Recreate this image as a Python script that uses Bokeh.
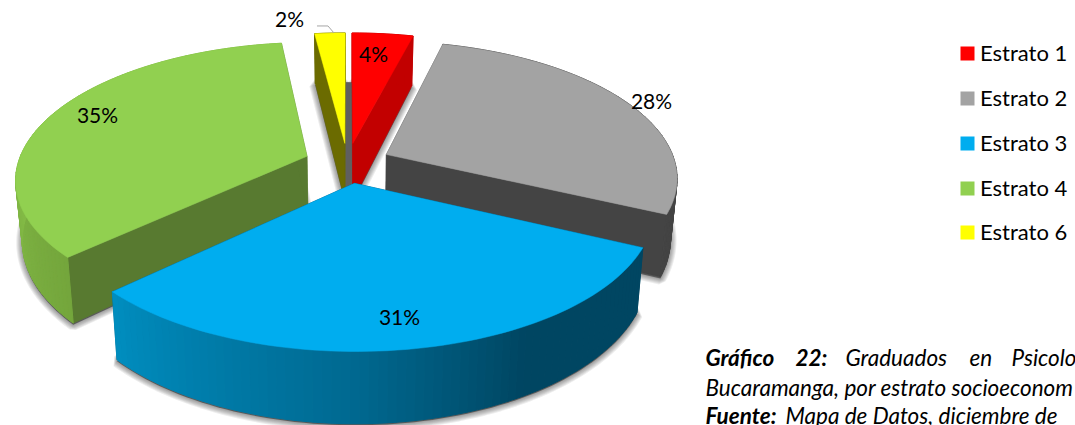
import numpy as np
from bokeh.plotting import figure
from bokeh.models import Range1d
from bokeh.core.properties import value
from bokeh.embed import file_html
from bokeh.resources import INLINE

# ---- data ----
categories = ["Estrato 1", "Estrato 2", "Estrato 3", "Estrato 4", "Estrato 6"]
percent = [4, 28, 31, 35, 2]
top_colors = ["#FF0000", "#A3A3A3", "#00ADEF", "#91D050", "#FFFF00"]
face_colors = ["#C20000", "#444444", "#004662", "#587A30", "#6B6B00"]
caption_line1 = ["Gráfico", "22:", "Graduados", "en", "Psicolo"]
caption_line2 = "Bucaramanga, por estrato socioeconom"
caption_bold3 = "Fuente:"
caption_line3 = "Mapa de Datos, diciembre de"

# ---- projection of the exploded 3-D pie onto the page (pixels) ----
X0, Y0 = 347.0, 162.5
RX, RY = 289.0, 134.0
KP = 0.16
EXPLODE = 0.15
DEPTH = 59.0
SHRINK = 0.98


def project(u, v):
    w = 1 + KP * v
    return X0 + RX * u / w, Y0 - RY * v / w


def drop(x, y, v):
    w = 1 + KP * v
    return X0 + (x - X0) * SHRINK, y + DEPTH / w


FONT = value("Lato")
p = figure(width=1075, height=425, output_backend="svg", toolbar_location=None,
           x_range=Range1d(0, 1075), y_range=Range1d(425, 0), min_border=0,
           outline_line_color=None, background_fill_color="white", border_fill_color="white")
p.axis.visible = False
p.grid.visible = False

edges = np.concatenate([[0], np.cumsum(percent)]) * 3.6
slices = []
for i in range(len(percent)):
    a0, a1 = edges[i], edges[i + 1]
    mid = np.radians((a0 + a1) / 2)
    du, dv = EXPLODE * np.sin(mid), EXPLODE * np.cos(mid)
    ang = np.radians(np.linspace(a0, a1, max(int((a1 - a0) / 1.5), 3)))
    u, v = du + np.sin(ang), dv + np.cos(ang)
    x, y = project(u, v)
    xb, yb = drop(x, y, v)
    ax, ay = project(du, dv)
    axb, ayb = drop(ax, ay, dv)
    slices.append(dict(a=np.degrees(ang), x=x, y=y, xb=xb, yb=yb, ax=ax, ay=ay, axb=axb, ayb=ayb))


# soft drop shadows, stroked with widening translucent lines
def shadow(xs, ys):
    for lw in (2, 4, 6, 8, 10, 12):
        p.patch(list(xs), list(np.array(ys) + 1.5), fill_color="black", fill_alpha=0.0,
                line_color="black", line_alpha=0.07, line_width=lw)
    p.patch(list(xs), list(np.array(ys) + 1.5), fill_color="black", fill_alpha=0.45, line_color=None)


for s in slices:
    shadow(np.r_[s["axb"], s["xb"]], np.r_[s["ayb"], s["yb"]])

# the dark gap between the two back slices
r, yl = slices[0], slices[4]
p.patch([yl["xb"][-1], r["xb"][0], r["axb"], yl["axb"]],
        [yl["yb"][-1], r["yb"][0], r["ayb"], yl["ayb"]],
        fill_color="#5F5F5F", line_color="#5F5F5F", line_width=1)


def wall_color(i, a):
    if i == 2:
        c = [np.interp(a, [115, 150, 180, 226.8], ch) for ch in
             ([0, 0, 0, 0], [70, 70, 105, 142], [98, 98, 145, 192])]
    elif i == 3:
        c = [np.interp(a, [226.8, 275], ch) for ch in ([116, 134], [166, 190], [60, 72])]
    else:
        return face_colors[i]
    return "#%02x%02x%02x" % tuple(int(round(t)) for t in c)


def draw(i):
    s = slices[i]
    # radial faces (those turned away end up behind the wall and the top)
    for k in (0, -1):
        p.patch([s["ax"], s["x"][k], s["xb"][k], s["axb"]],
                [s["ay"], s["y"][k], s["yb"][k], s["ayb"]],
                fill_color=face_colors[i], line_color=face_colors[i], line_width=0.5)
    # outer wall
    xs, ys, cs = [], [], []
    for k in range(len(s["x"]) - 1):
        xs.append([s["x"][k], s["x"][k + 1], s["xb"][k + 1], s["xb"][k]])
        ys.append([s["y"][k], s["y"][k + 1], s["yb"][k + 1], s["yb"][k]])
        cs.append(wall_color(i, s["a"][k]))
    p.patches(xs, ys, fill_color=cs, line_color=cs, line_width=1)
    # top
    p.patch(np.r_[s["ax"], s["x"]].tolist(), np.r_[s["ay"], s["y"]].tolist(),
            fill_color=top_colors[i], line_color=top_colors[i], line_width=0.5)


for i in (4, 0, 3, 1, 2):
    draw(i)

# leader line of the smallest slice
lx, ly = slices[4]["x"][len(slices[4]["x"]) // 2], slices[4]["y"][len(slices[4]["y"]) // 2]
p.line([lx - 18, lx - 7, lx - 1], [ly - 7, ly - 7, ly], line_color="#A6A6A6", line_width=1)

# value labels
label_x = [373, 651, 399, 97, 289]
label_y = [52.5, 99.5, 315.5, 113.5, 17.5]
p.text(label_x, label_y, text=[f"{v}%" for v in percent], text_font=FONT, text_font_size="21px",
       text_align="center", text_baseline="middle", text_color="black")

# legend
leg_y = [53, 98, 143, 188, 232]
leg_text_y = [51.5, 96.5, 141.5, 186.5, 230.5]
p.rect([967] * 5, leg_y, width=14, height=14, fill_color=top_colors, line_color=None)
p.text([979.5] * 5, leg_text_y, text=categories, text_font=FONT, text_font_size="22px",
       text_align="left", text_baseline="middle", text_color="black")

# caption
CX = 705
cap1_x = [705, 795, 845, 969, 1011]
cap_style = dict(text_font=FONT, text_font_size="22.5px", text_baseline="middle", text_color="black")
p.text(cap1_x[:2], [357, 357], text=caption_line1[:2], text_font_style="bold italic", **cap_style)
p.text(cap1_x[2:], [357] * 3, text=caption_line1[2:], text_font_style="italic", **cap_style)
p.text([CX], [387], text=[caption_line2], text_font_style="italic", **cap_style)
p.text([CX], [415], text=[caption_bold3], text_font_style="bold italic", **cap_style)
p.text([785], [415], text=[caption_line3], text_font_style="italic", **cap_style)

open("out.html", "w").write(file_html(p, INLINE))
